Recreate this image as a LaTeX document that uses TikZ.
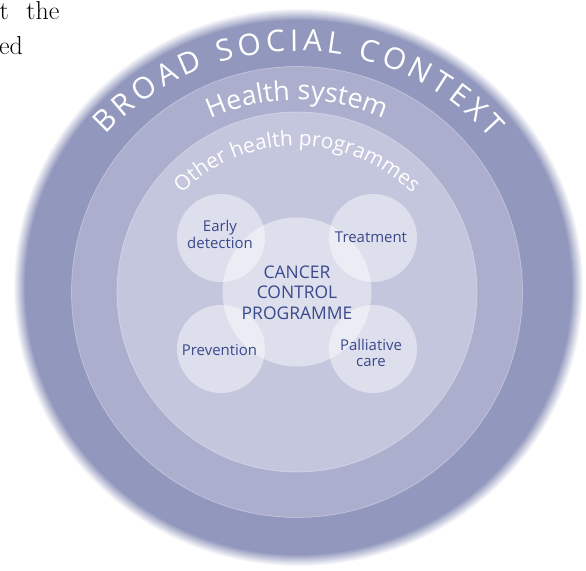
\documentclass[tikz,border=0pt]{standalone}
\usepackage{fontspec}
\newfontfamily\osans{Open Sans}
\usetikzlibrary{decorations.text}
\definecolor{ringA}{RGB}{146,152,189}
\definecolor{ringB}{RGB}{171,175,205}
\definecolor{ringC}{RGB}{196,198,221}
\definecolor{navy}{RGB}{58,72,140}
\begin{document}
\begin{tikzpicture}[x=1bp,y=1bp,
  lbl/.style={text=navy, font=\osans\fontsize{15}{16.5}\selectfont, align=center, inner sep=0pt},
  bubble/.style={circle, fill=white, fill opacity=0.45, draw=none, minimum size=88bp, inner sep=0pt},
  ringline/.style={draw=white, draw opacity=0.35, line width=0.7bp},
  serif/.style={inner sep=0pt, font=\fontsize{26}{31}\selectfont, text=black}
]
\useasboundingbox (0,0) rectangle (586,571);
\coordinate (C) at (297,279);
\coordinate (T) at (297,261);
\coordinate (O) at (298.5,283.5);
% outer disc with soft edge
\foreach \k in {1,...,12}{
  \pgfmathsetmacro\op{1/(13-\k)}
  \fill[ringA, fill opacity=\op] (O) ellipse [x radius={285.5-\k}, y radius={279.5-\k}];
}
% health system ring
\fill[ringB] (C) circle (225.5);
\draw[ringline] (C) circle (225.5);
% other health programmes ring
\fill[ringC] (C) circle (180);
\draw[ringline] (C) circle (180);
% bubbles
\node[bubble, minimum size=149bp] (ccp) at (C) {};
\node[bubble] (edc) at (221,333) {};
\node[bubble] (trc) at (373,333) {};
\node[bubble] (prc) at (221,222) {};
\node[bubble] (pac) at (373,222) {};
% labels
\node[lbl, font=\osans\fontsize{17.5}{21}\selectfont] (ccpl) at (297,278.25) {CANCER\\CONTROL\\PROGRAMME};
\node[lbl] (edl) at (220,336.7) {Early\\detection};
\node[lbl] (trl) at (371,333.4) {Treatment};
\node[lbl] (prl) at (219.5,221.4) {Prevention};
\node[lbl] (pal) at (371,218.2) {Palliative\\care};
% curved titles
\path[decorate, decoration={text along path,
  text={|\osans\fontsize{30}{30}\selectfont|BROAD SOCIAL CONTEXT},
  text color=white, text align={fit to path}}]
  (T) ++(137.5:259) arc[start angle=137.5, end angle=41.5, radius=259];
\path[decorate, decoration={text along path,
  text={|\osans\fontsize{27}{27}\selectfont|Health system},
  text color=white, text align=center}]
  (T) ++(125:210) arc[start angle=125, end angle=55, radius=210];
\path[decorate, decoration={text along path,
  text={|\osans\fontsize{21}{21}\selectfont|Other health programmes},
  text color=white, text align=center}]
  (T) ++(145:164) arc[start angle=145, end angle=35, radius=164];
% fragment of page text
\node[serif, anchor=base west] (tl1) at (-0.5,551.5) {t\hspace{17.5bp}the};
\node[serif, anchor=base east] (tl2) at (23,516) {ed};
\end{tikzpicture}
\end{document}
